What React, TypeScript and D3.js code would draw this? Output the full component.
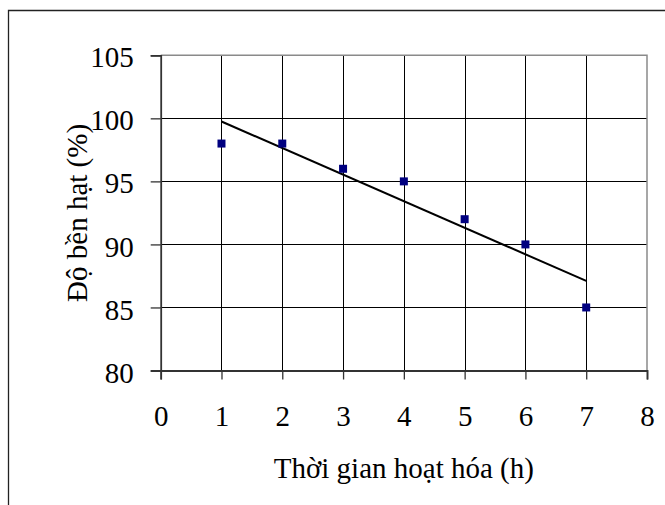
import React, { useEffect, useRef } from 'react';
import * as d3 from 'd3';

// data
const hours = [1, 2, 3, 4, 5, 6, 7];
const durability = [98, 98, 96, 95, 92, 90, 85];
const xTicks = [0, 1, 2, 3, 4, 5, 6, 7, 8];
const yTicks = [80, 85, 90, 95, 100, 105];
const xTitle = 'Thời gian hoạt hóa (h)';
const yTitle = 'Độ bền hạt (%)';

const W = 665;
const H = 505;
const FONT = "'Liberation Serif', serif";

const App = () => {
  const svgRef = useRef<SVGSVGElement>(null);

  useEffect(() => {
    const svg = d3.select(svgRef.current);
    svg.selectAll('*').remove();

    const xScale = d3.scaleLinear().domain([0, 8]).range([160.7, 647]);
    const yScale = d3.scaleLinear().domain([80, 105]).range([370.5, 55.3]);

    // outer chart frame (right/bottom fall off the page)
    svg
      .append('path')
      .attr('d', `M8.5,${H + 5} V10.5 H${W + 5}`)
      .attr('fill', 'none')
      .attr('stroke', '#222')
      .attr('stroke-width', 1.3);

    // gridlines
    const grid = svg.append('g');
    grid
      .selectAll('line.v')
      .data(xTicks.slice(1, -1))
      .join('line')
      .attr('x1', (d) => Math.round(xScale(d)) + 0.5)
      .attr('x2', (d) => Math.round(xScale(d)) + 0.5)
      .attr('y1', yScale(105))
      .attr('y2', yScale(80))
      .attr('stroke', '#000')
      .attr('stroke-width', 1);
    grid
      .selectAll('line.h')
      .data(yTicks.slice(1, -1))
      .join('line')
      .attr('x1', xScale(0))
      .attr('x2', xScale(8))
      .attr('y1', (d) => Math.round(yScale(d)) + 0.5)
      .attr('y2', (d) => Math.round(yScale(d)) + 0.5)
      .attr('stroke', '#000')
      .attr('stroke-width', 1);

    // plot area border top + right (grey)
    svg
      .append('path')
      .attr('d', `M${xScale(0)},${yScale(105)} H${xScale(8)} V${yScale(80)}`)
      .attr('fill', 'none')
      .attr('stroke', '#8a8a8a')
      .attr('stroke-width', 1.5);

    // y axis
    const yAxis = d3.axisLeft(yScale).tickValues(yTicks).tickSize(10).tickPadding(17);
    const gy = svg.append('g').attr('transform', `translate(${xScale(0)},0)`).call(yAxis);
    gy.attr('font-family', null).attr('font-size', null);
    gy.select('.domain').attr('stroke', '#333').attr('stroke-width', 1.8);
    gy.selectAll('line').attr('stroke', '#333').attr('stroke-width', 1.3);
    gy.selectAll('text')
      .style('font-family', FONT)
      .style('font-size', '29px')
      .attr('dy', '0.4em')
      .attr('fill', '#000');

    // x axis
    const xAxis = d3.axisBottom(xScale).tickValues(xTicks).tickSize(9).tickPadding(26);
    const gx = svg.append('g').attr('transform', `translate(0,${yScale(80)})`).call(xAxis);
    gx.attr('font-family', null).attr('font-size', null);
    gx.select('.domain').attr('stroke', '#333').attr('stroke-width', 1.8);
    gx.selectAll('line').attr('stroke', '#333').attr('stroke-width', 1.3);
    gx.selectAll('text')
      .style('font-family', FONT)
      .style('font-size', '29px')
      .attr('fill', '#000');

    // linear trendline from least squares fit
    const mx = d3.mean(hours) as number;
    const my = d3.mean(durability) as number;
    const sxy = d3.sum(hours, (x, i) => (x - mx) * (durability[i] - my));
    const sxx = d3.sum(hours, (x) => (x - mx) ** 2);
    const slope = sxy / sxx;
    const fit = (x: number) => my + slope * (x - mx);
    const ends = [d3.min(hours) as number, d3.max(hours) as number];
    const line = d3
      .line<number>()
      .x((d) => xScale(d))
      .y((d) => yScale(fit(d)));
    svg
      .append('path')
      .datum(ends)
      .attr('d', line)
      .attr('fill', 'none')
      .attr('stroke', '#000')
      .attr('stroke-width', 2);

    // markers
    const s = 8;
    svg
      .append('g')
      .selectAll('rect')
      .data(hours)
      .join('rect')
      .attr('x', (d) => xScale(d) - s / 2)
      .attr('y', (d, i) => yScale(durability[i]) - s / 2)
      .attr('width', s)
      .attr('height', s)
      .attr('fill', '#000080');

    // axis titles
    svg
      .append('text')
      .attr('x', (xScale(0) + xScale(8)) / 2)
      .attr('y', 478)
      .attr('text-anchor', 'middle')
      .style('font-family', FONT)
      .style('font-size', '29px')
      .text(xTitle);
    svg
      .append('text')
      .attr('transform', `translate(87,${(yScale(80) + yScale(105)) / 2}) rotate(-90)`)
      .attr('text-anchor', 'middle')
      .style('font-family', FONT)
      .style('font-size', '29px')
      .text(yTitle);
  }, []);

  return (
    <div style={{ background: 'white', position: 'absolute', left: 0, top: 0 }}>
      <svg ref={svgRef} width={W} height={H} style={{ display: 'block' }} />
    </div>
  );
};

export default App;
